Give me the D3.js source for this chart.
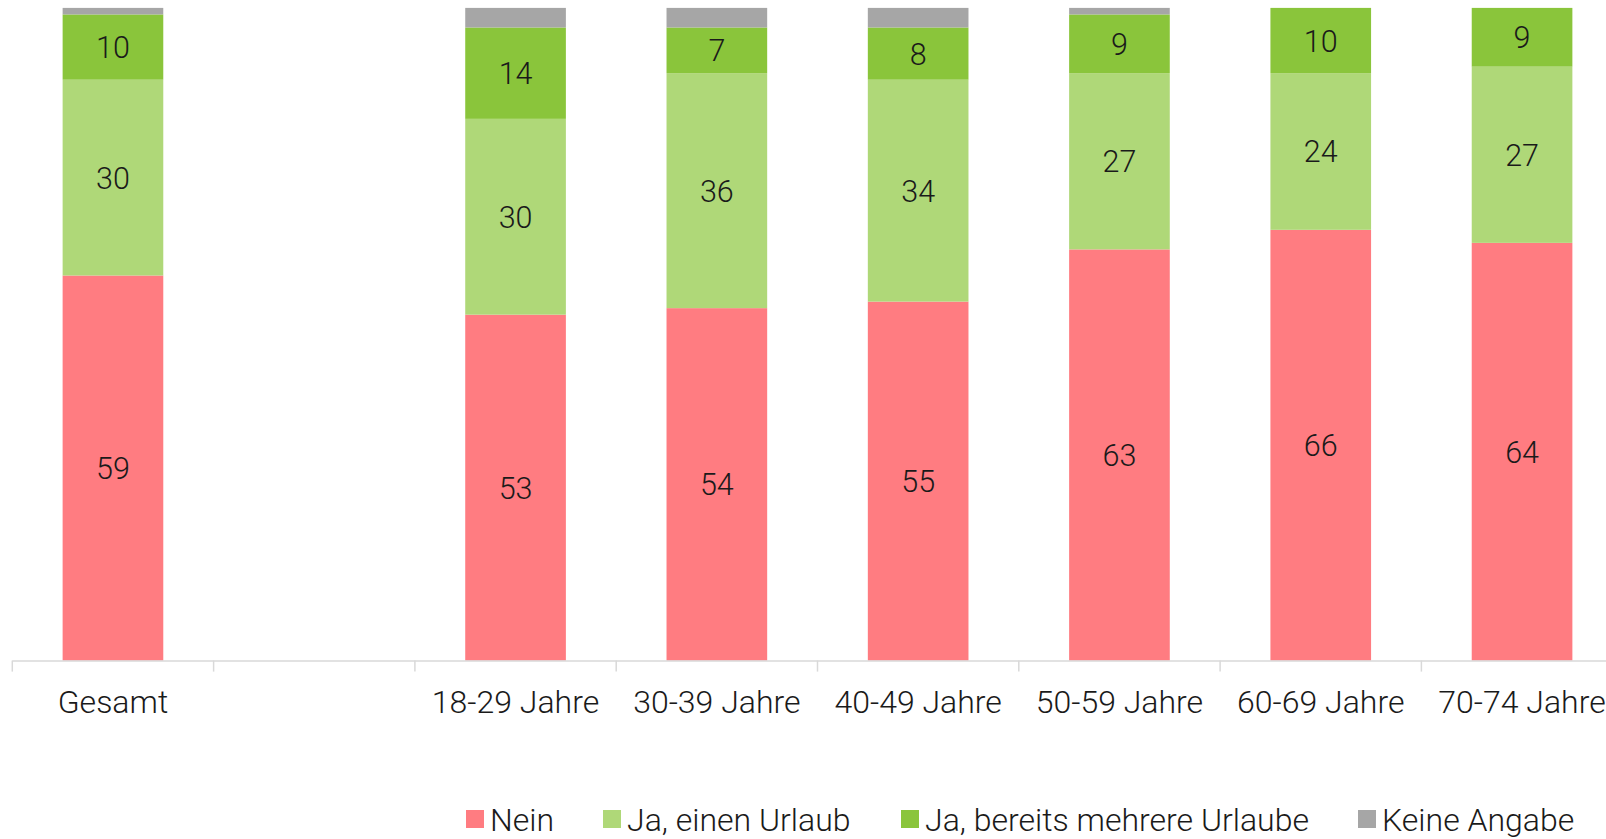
<!DOCTYPE html>
<html>
<head>
<meta charset="utf-8">
<script src="https://cdn.jsdelivr.net/npm/d3@7"></script>
<style>
  html, body { margin: 0; padding: 0; background: #fff; overflow: hidden; }
  text { font-family: Roboto, "Noto Sans", sans-serif; font-weight: 300; }
</style>
</head>
<body>
<svg id="chart" width="1606" height="839"></svg>
<script>
const categories = ["Gesamt", "", "18-29 Jahre", "30-39 Jahre", "40-49 Jahre", "50-59 Jahre", "60-69 Jahre", "70-74 Jahre"];
const seriesNames = ["Nein", "Ja, einen Urlaub", "Ja, bereits mehrere Urlaube", "Keine Angabe"];
const nein        = [59, null, 53, 54, 55, 63, 66, 64];
const einUrlaub   = [30, null, 30, 36, 34, 27, 24, 27];
const mehrere     = [10, null, 14, 7, 8, 9, 10, 9];
const keineAngabe = [1, null, 3, 3, 3, 1, 0, 0];
const colors = ["#FF7C81", "#AFD878", "#8AC53B", "#A6A6A6"];
const showLabel = [true, true, true, false];

const seriesValues = [nein, einUrlaub, mehrere, keineAngabe];
const svg = d3.select("#chart");

const x = d3.scaleBand().domain(d3.range(categories.length))
  .range([12.3, 1622.7]).paddingInner(0.5).paddingOuter(0.25);
const y = d3.scaleLinear().domain([0, 100]).range([660.6, 7.9]);

const rows = categories.map((c, i) => {
  const r = { i, cat: c };
  seriesNames.forEach((s, k) => r[s] = seriesValues[k][i] || 0);
  return r;
});
const stacked = d3.stack().keys(seriesNames)(rows);

stacked.forEach((layer, k) => {
  const g = svg.append("g");
  g.selectAll("rect").data(layer.filter(d => d[1] - d[0] > 0)).join("rect")
    .attr("x", d => x(d.data.i))
    .attr("width", x.bandwidth())
    .attr("y", d => y(d[1]))
    .attr("height", d => y(d[0]) - y(d[1]))
    .attr("fill", colors[k]);
  if (showLabel[k]) {
    g.selectAll("text").data(layer.filter(d => d[1] - d[0] > 0)).join("text")
      .attr("x", d => x(d.data.i) + x.bandwidth() / 2)
      .attr("y", d => (y(d[0]) + y(d[1])) / 2)
      .attr("dy", "0.36em")
      .attr("text-anchor", "middle")
      .attr("font-size", 30.5)
      .attr("fill", "#1a1a1a")
      .text(d => d[1] - d[0]);
  }
});

// axis
const step = x.step();
const x0 = 12.3;
const axis = svg.append("g");
axis.append("line").attr("x1", x0).attr("x2", 1606)
  .attr("y1", y(0) + 0.5).attr("y2", y(0) + 0.5)
  .attr("stroke", "#D9D9D9").attr("stroke-width", 1.5);
axis.selectAll("line.tick").data(d3.range(categories.length)).join("line")
  .attr("class", "tick")
  .attr("x1", i => x0 + i * step).attr("x2", i => x0 + i * step)
  .attr("y1", y(0)).attr("y2", y(0) + 11)
  .attr("stroke", "#D9D9D9").attr("stroke-width", 1.5);
axis.selectAll("text").data(categories.map((c, i) => ({ c, i }))).join("text")
  .attr("x", d => x(d.i) + x.bandwidth() / 2)
  .attr("y", 701)
  .attr("dy", "0.36em")
  .attr("text-anchor", "middle")
  .attr("font-size", 32)
  .attr("fill", "#1a1a1a")
  .text(d => d.c);

// legend
const legendX = [466, 603, 901, 1358];
const legend = svg.append("g");
seriesNames.forEach((s, k) => {
  legend.append("rect").attr("x", legendX[k]).attr("y", 810).attr("width", 18).attr("height", 18).attr("fill", colors[k]);
  legend.append("text").attr("x", legendX[k] + 24).attr("y", 819).attr("dy", "0.36em")
    .attr("font-size", 32).attr("fill", "#1a1a1a").text(s);
});
</script>
</body>
</html>
